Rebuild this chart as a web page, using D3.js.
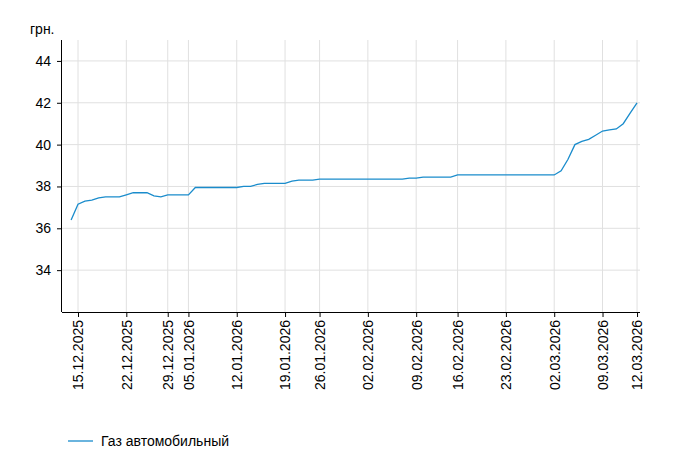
<!DOCTYPE html>
<html><head><meta charset="utf-8">
<script src="https://cdn.jsdelivr.net/npm/d3@7"></script>
<style>body{margin:0;background:#fff}text{font-family:Arial,"Liberation Sans",sans-serif}</style>
</head><body><svg id="c" width="680" height="476"></svg>
<script>
// observation dates (trading records; some days repeat, some are skipped)
const dates = ["14.12.2025","15.12.2025","16.12.2025","17.12.2025","18.12.2025","19.12.2025","20.12.2025","21.12.2025",
  "22.12.2025","23.12.2025","24.12.2025","26.12.2025","27.12.2025","28.12.2025",
  "29.12.2025","30.12.2025","31.12.2025",
  "05.01.2026","06.01.2026","07.01.2026","08.01.2026","09.01.2026","10.01.2026","11.01.2026",
  "12.01.2026","13.01.2026","14.01.2026","15.01.2026","16.01.2026","17.01.2026","18.01.2026",
  "19.01.2026","20.01.2026","21.01.2026","22.01.2026","24.01.2026",
  "26.01.2026","27.01.2026","28.01.2026","29.01.2026","30.01.2026","31.01.2026","01.02.2026",
  "02.02.2026","03.02.2026","04.02.2026","05.02.2026","06.02.2026","07.02.2026","08.02.2026",
  "09.02.2026","10.02.2026","11.02.2026","12.02.2026","13.02.2026","14.02.2026",
  "16.02.2026","17.02.2026","18.02.2026","19.02.2026","20.02.2026","21.02.2026","22.02.2026",
  "23.02.2026","24.02.2026","25.02.2026","26.02.2026","27.02.2026","28.02.2026","01.03.2026",
  "02.03.2026","03.03.2026","04.03.2026","05.03.2026","06.03.2026","07.03.2026","08.03.2026",
  "09.03.2026","10.03.2026","10.03.2026","11.03.2026","11.03.2026","12.03.2026"];
const prices = [36.4,37.15,37.3,37.35,37.45,37.5,37.5,37.5,
  37.6,37.7,37.7,37.7,37.55,37.5,
  37.6,37.6,37.6,
  37.6,37.95,37.95,37.95,37.95,37.95,37.95,
  37.95,38.0,38.0,38.1,38.15,38.15,38.15,
  38.15,38.25,38.3,38.3,38.3,
  38.35,38.35,38.35,38.35,38.35,38.35,38.35,
  38.35,38.35,38.35,38.35,38.35,38.35,38.4,
  38.4,38.45,38.45,38.45,38.45,38.45,
  38.55,38.55,38.55,38.55,38.55,38.55,38.55,
  38.55,38.55,38.55,38.55,38.55,38.55,38.55,
  38.55,38.75,39.3,40.0,40.15,40.25,40.45,
  40.65,40.7,40.75,41.0,41.5,42.0];
const tickLabels = ["15.12.2025","22.12.2025","29.12.2025","05.01.2026","12.01.2026","19.01.2026","26.01.2026","02.02.2026","09.02.2026","16.02.2026","23.02.2026","02.03.2026","09.03.2026","12.03.2026"];
const yTicks = [34,36,38,40,42,44];

const svg = d3.select("#c");
const m = {l:62, r:640, t:40, b:312};
const n = dates.length;
const x = d3.scaleLinear().domain([-1.32, n - 1 + 0.43]).range([m.l, m.r]);
const y = d3.scaleLinear().domain([32,45]).range([m.b, m.t]);

const tickIdx = tickLabels.map(t => dates.indexOf(t));
svg.append("g").selectAll("line").data(tickIdx).join("line")
  .attr("x1",d=>x(d)).attr("x2",d=>x(d)).attr("y1",m.t).attr("y2",m.b)
  .attr("stroke","#e0e0e0");
svg.append("g").selectAll("line").data(yTicks).join("line")
  .attr("x1",m.l).attr("x2",m.r).attr("y1",d=>y(d)).attr("y2",d=>y(d))
  .attr("stroke","#e0e0e0");

svg.append("g").attr("transform",`translate(${m.l},0)`)
  .call(d3.axisLeft(y).tickValues(yTicks).tickSize(5).tickPadding(6))
  .call(g=>g.selectAll("text").attr("font-size",14).attr("fill","#000"))
  .call(g=>g.select(".domain").attr("d",`M-0.5,${m.t}V${m.b}`));

svg.append("g").attr("transform",`translate(0,${m.b})`)
  .call(d3.axisBottom(x).tickValues(tickIdx).tickSize(5).tickFormat((d,i)=>tickLabels[i]))
  .call(g=>g.select(".domain").attr("d",`M${m.l},0.5H${m.r}`))
  .call(g=>g.selectAll("text").attr("font-size",14).attr("fill","#000")
    .attr("transform","rotate(-90)").attr("text-anchor","end")
    .attr("x",-8).attr("y",0).attr("dy","0.35em"));

svg.append("text").attr("x",30).attr("y",34).attr("font-size",14).text("грн.");

const line = d3.line().x((d,i)=>x(i)).y(d=>y(d));
svg.append("path").datum(prices).attr("d",line)
  .attr("fill","none").attr("stroke","#1a8ccc").attr("stroke-width",1.3);

svg.append("line").attr("x1",68).attr("x2",93).attr("y1",441).attr("y2",441)
  .attr("stroke","#1a8ccc").attr("stroke-width",1.3);
svg.append("text").attr("x",101).attr("y",446).attr("font-size",14).text("Газ автомобильный");
</script></body></html>
